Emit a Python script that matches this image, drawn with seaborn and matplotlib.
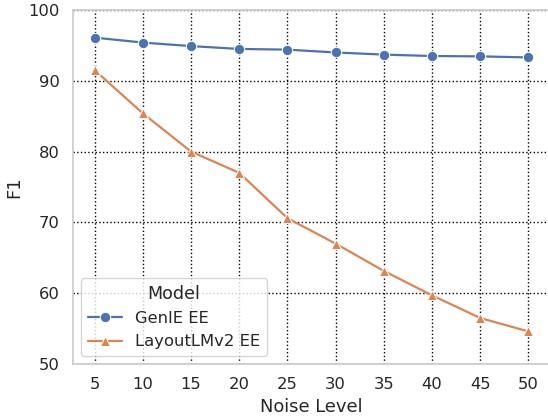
import numpy as np
import pandas as pd
import matplotlib
matplotlib.use("Agg")
import matplotlib.pyplot as plt
import seaborn as sns

# Noise levels and F1 scores
noise_levels = [5, 10, 15, 20, 25, 30, 35, 40, 45, 50]
genie_f1 = [96.1, 95.4, 94.9, 94.5, 94.4, 94.0, 93.7, 93.5, 93.45, 93.3]
layoutlm_f1 = [91.5, 85.4, 80.0, 77.0, 70.6, 67.0, 63.15, 59.7, 56.5, 54.6]
model_names = ["GenIE EE", "LayoutLMv2 EE"]

df = pd.DataFrame({
    "Noise Level": noise_levels * 2,
    "F1": genie_f1 + layoutlm_f1,
    "Model": [model_names[0]] * len(noise_levels) + [model_names[1]] * len(noise_levels),
})

sns.set_theme(style="whitegrid", font_scale=1.07)
plt.rcParams["font.family"] = ["DejaVu Sans"]

fig, ax = plt.subplots(figsize=(5.48, 4.16), dpi=100)
sns.lineplot(data=df, x="Noise Level", y="F1", hue="Model", style="Model",
             markers=["o", "^"], dashes=False, markersize=7.5, linewidth=1.6, ax=ax)

ax.set_ylim(50, 100)
ax.set_xticks(noise_levels)
ax.grid(True, linestyle=":", color="black", linewidth=1.0)
sns.move_legend(ax, "lower left", title="Model", title_fontsize=12.6, handlelength=2.1)

fig.subplots_adjust(left=73 / 548, right=550 / 548, top=1 - 10 / 416, bottom=1 - 364 / 416)
plt.savefig("out.png", dpi=100)
